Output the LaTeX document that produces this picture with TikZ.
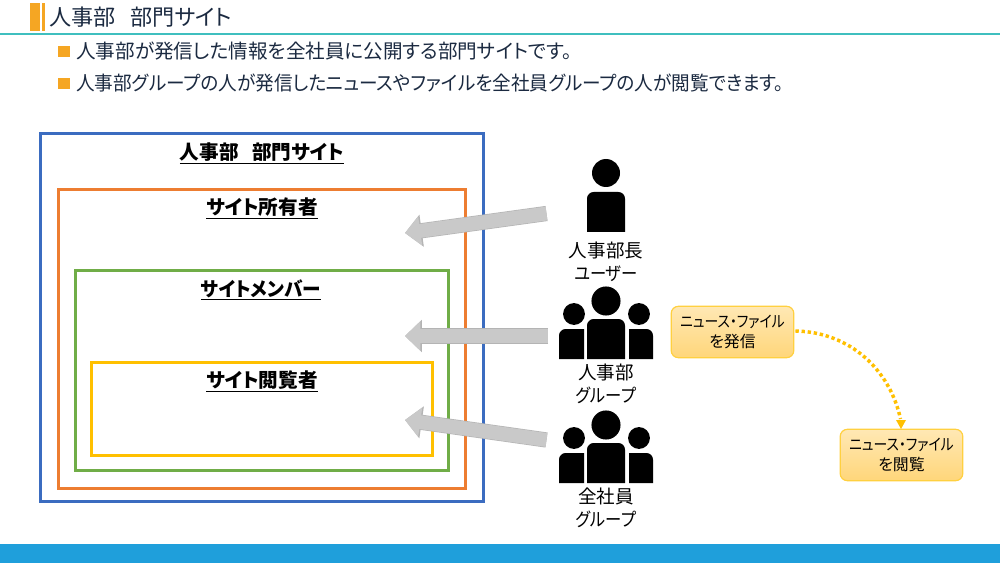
\documentclass[tikz,border=0pt]{standalone}
\usepackage{fontspec}
\setmainfont[RawFeature=+palt]{Noto Sans CJK JP}
\usetikzlibrary{arrows.meta}
\definecolor{ink}{HTML}{1B2A41}
\definecolor{accent}{HTML}{F5A623}
\definecolor{teal}{HTML}{3FBFBF}
\definecolor{barblue}{HTML}{1F9FDB}
\definecolor{frameblue}{HTML}{3B6CC0}
\definecolor{frameorange}{HTML}{ED7D31}
\definecolor{framegreen}{HTML}{70AD47}
\definecolor{frameyellow}{HTML}{FFC000}
\definecolor{arrowfill}{HTML}{C9C9C9}
\definecolor{arrowedge}{HTML}{B4B4B4}
\definecolor{noteTop}{HTML}{FFE8B4}
\definecolor{noteBot}{HTML}{FFD67A}
\tikzset{
  frame/.style={draw=#1,line width=2.25pt,fill=none},
  heading/.style={font=\fontsize{14.7pt}{17pt}\selectfont\bfseries,text=black,inner sep=0pt},
  bullettext/.style={anchor=west,font=\fontsize{14.7pt}{17pt}\selectfont,text=ink,inner sep=0pt},
  bulletsq/.style={fill=accent,draw=none},
  personlabel/.style={align=center,font=\fontsize{13.9pt}{17.4pt}\selectfont,text=black,inner sep=0pt},
  notebox/.style={draw=frameyellow!75!white,line width=0.9pt,rounded corners=5.5pt,top color=noteTop,bottom color=noteBot,
    minimum width=92pt,minimum height=38.6pt,align=center,inner sep=0pt,text=black,font=\fontsize{11.9pt}{15pt}\selectfont},
  blockedge/.style={line width=11.4pt,draw=arrowedge,-{Triangle[width=23.5pt,length=12.6pt,fill=arrowedge]}},
  blockfill/.style={line width=10.4pt,draw=arrowfill,-{Triangle[width=21.3pt,length=11.5pt,fill=arrowfill]}},
  flow/.style={draw=frameyellow,line width=2.6pt,line cap=butt,dash pattern=on 2.5pt off 2.1pt},
}
\newcommand{\kanasq}[2][.88]{\scalebox{#1}[1]{#2}}
\newcommand{\groupicon}[1]{%
  \begin{scope}[yshift=#1*-0.75pt]
    \fill[black] (606,301) circle[radius=10.9pt];
    \fill[black] (574,314) circle[radius=8.2pt];
    \fill[black] (639,314) circle[radius=8.2pt];
    \fill[black] (587,359) [rounded corners=5pt] -- (587,319) -- (625,319) [sharp corners] -- (625,359) -- cycle;
    \fill[black] (559,359) [rounded corners=5pt] -- (559,329) [sharp corners] -- (584,329) -- (584,359) -- cycle;
    \fill[black] (653,359) [rounded corners=5pt] -- (653,329) [sharp corners] -- (629,329) -- (629,359) -- cycle;
  \end{scope}}
\begin{document}
\begin{tikzpicture}[x=0.75pt,y=-0.75pt]
\useasboundingbox (0,0) rectangle (1000,563);
\fill[white] (0,0) rectangle (1000,563);
% header
\fill[accent] (30,3) rectangle (40,31);
\fill[accent] (42,3) rectangle (44.5,31);
\draw[teal,line width=1pt] (0,34) -- (1000,34);
\node[anchor=west,font=\fontsize{16.6pt}{19pt}\selectfont,text=ink,inner sep=0pt] (title) at (49,17) {人事部~~~部門サイト};
\fill[barblue] (0,544) rectangle (1000,563);
% bullets
\fill[bulletsq] (58,46) rectangle (70,57);
\fill[bulletsq] (58,78) rectangle (70,89);
\node[bullettext] (b1) at (76,51.5) {人事部が発信した情報を全社員に公開する部門サイトです。};
\node[bullettext] (b2) at (76,83.5) {\kanasq[.95]{人事部グループの人が発信したニュースやファイルを全社員グループの人が閲覧できます。}};
% frames
\draw[frame=frameblue] (40,134) rectangle (483,501);
\draw[frame=frameorange] (58,190) rectangle (465,488);
\draw[frame=framegreen] (75,270) rectangle (448,470);
\draw[frame=frameyellow] (91,362) rectangle (432,455);
\node[heading] (h1) at (262,153) {\underline{人事部~~~部門サイト}};
\node[heading] (h2) at (262,208) {\underline{サイト所有者}};
\node[heading] (h3) at (261,290) {\kanasq[.95]{\underline{サイトメンバー}}};
\node[heading] (h4) at (262,381) {\underline{サイト閲覧者}};
% person icons
\fill[black] (606,173) circle[radius=10.5pt];
\fill[black] (587,232) [rounded corners=5pt] -- (587,192) -- (625,192) [sharp corners] -- (625,232) -- cycle;
\groupicon{0}
\groupicon{124}
\node[personlabel] (l1) at (606,262) {人事部長\\\kanasq{ユーザー}};
\node[personlabel] (l2) at (606,384) {人事部\\\kanasq{グループ}};
\node[personlabel] (l3) at (606,508) {全社員\\\kanasq{グループ}};
% block arrows
\coordinate (a1s) at (546.5,213.5);
\coordinate (a1e) at (405,233);
\coordinate (a2s) at (548,336);
\coordinate (a2e) at (405,336);
\coordinate (a3s) at (546.5,440);
\coordinate (a3e) at (405,420);
\foreach \s/\e in {a1s/a1e,a2s/a2e,a3s/a3e}{
  \draw[blockedge] (\s) -- (\e);
  \draw[blockfill] (\s) -- (\e);
}
% notes
\node[notebox] (n1) at (732.5,332) {\kanasq[.87]{ニュース・ファイル}\\を発信};
\node[notebox] (n2) at (901.5,455) {\kanasq[.87]{ニュース・ファイル}\\を閲覧};
\coordinate (f1) at (n1.east);
\draw[flow] (f1) ++(1,-1) .. controls (850,332) and (890,370) .. (900.5,419);
\fill[frameyellow] (896,420) -- (906,420) -- (901,429) -- cycle;
\end{tikzpicture}
\end{document}
